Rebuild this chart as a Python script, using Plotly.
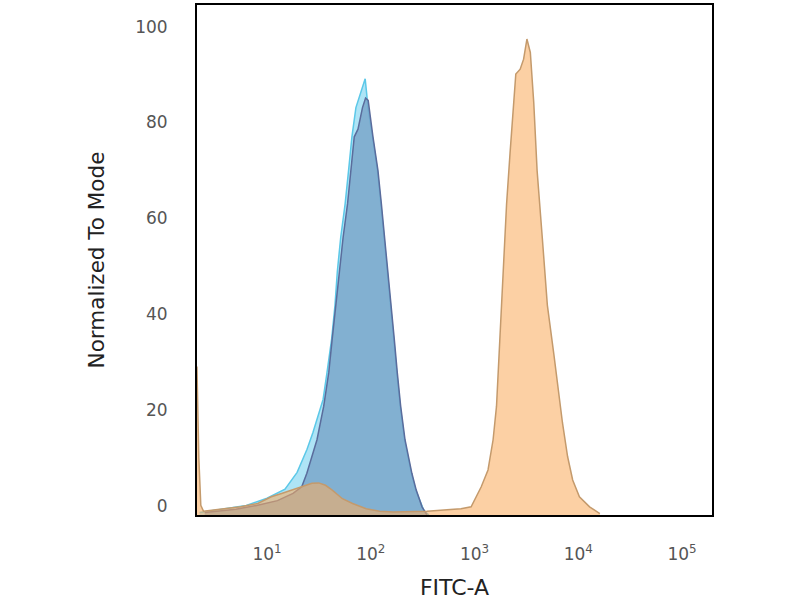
import plotly.graph_objects as go

# FITC-A intensity (log axis) and normalized counts for each histogram
cyan_x = [2.24, 3.16, 6.31, 10.0, 14.9, 19.5, 24.3, 27.7, 31.0, 34.7, 37.9, 42.0, 45.2, 47.6, 51.3,
          56.6, 61.1, 65.8, 71.9, 79.4, 88.3, 91.2, 93.8, 103.8, 115.8, 125.0, 134.6, 145.2, 156.7,
          166.3, 177.8, 191.9, 211.3, 246.0, 271.0, 310.0, 324.0, 363.0]
cyan_y = [0.5, 1.0, 2.0, 3.5, 5.4, 8.9, 13.7, 17.2, 20.5, 24.1, 29.8, 36.8, 43.8, 50.8, 57.9,
          64.9, 71.9, 78.9, 85.0, 88.0, 91.0, 88.0, 85.0, 78.9, 71.9, 64.9, 57.9, 50.8, 43.8,
          36.8, 29.8, 22.7, 15.7, 8.7, 5.2, 2.2, 1.0, 0.0]

blue_x = [2.51, 5.01, 7.94, 12.6, 17.8, 21.6, 24.2, 30.3, 35.2, 39.4, 42.5, 45.8, 49.4, 54.1,
          59.7, 64.4, 69.3, 75.3, 83.2, 89.1, 94.4, 105.0, 117.2, 126.5, 136.1, 146.9, 158.5,
          168.3, 179.9, 194.1, 213.8, 248.9, 274.2, 311.9, 348.3]
blue_y = [0.5, 1.2, 2.0, 3.0, 4.5, 5.9, 8.7, 15.7, 22.7, 29.8, 36.8, 43.8, 50.8, 57.9,
          64.9, 71.9, 78.9, 80.5, 85.0, 87.0, 86.5, 78.9, 71.9, 64.9, 57.9, 50.8, 43.8,
          36.8, 29.8, 22.7, 15.7, 8.7, 5.2, 1.7, 0.0]

orange_x = [2.11, 2.2, 2.3, 2.44, 3.85, 5.58, 8.13, 11.0, 13.8, 17.3, 21.6, 27.1, 31.5, 36.6,
            42.5, 53.3, 66.7, 90.2, 121.6, 164.4, 348, 740, 927, 1161, 1349, 1510, 1629, 1758,
            1892, 2037, 2198, 2371, 2500, 2754, 2972, 3199, 3451, 3724, 4009, 4498, 5035, 5834,
            6531, 7047, 7889, 8831, 10257, 12853, 16144]
orange_y = [31.0, 12.0, 2.0, 0.8, 1.3, 1.7, 2.4, 3.8, 4.5, 5.2, 5.9, 6.6, 6.7, 6.2,
            5.2, 3.4, 2.4, 1.3, 0.8, 0.6, 0.8, 1.3, 1.7, 5.9, 9.4, 15.7, 22.7, 36.8,
            50.8, 64.9, 75.4, 86.0, 92.0, 93.0, 95.1, 99.3, 96.5, 86.0, 71.9, 57.9, 43.8, 33.3,
            24.9, 19.2, 12.2, 7.3, 3.8, 1.7, 0.3]

x_tickvals = [10, 100, 1000, 10000, 100000]
x_ticktext = ["10<sup>1</sup>", "10<sup>2</sup>", "10<sup>3</sup>", "10<sup>4</sup>", "10<sup>5</sup>"]
y_tickvals = [0, 20, 40, 60, 80, 100]

fig = go.Figure()
fig.add_trace(go.Scatter(x=cyan_x, y=cyan_y, mode="lines", fill="tozeroy",
                         line=dict(color="#5cc8e8", width=1.5),
                         fillcolor="rgba(120,210,240,0.6)", showlegend=False))
fig.add_trace(go.Scatter(x=blue_x, y=blue_y, mode="lines", fill="tozeroy",
                         line=dict(color="#5a6c9c", width=1.5),
                         fillcolor="rgba(118,162,198,0.78)", showlegend=False))
fig.add_trace(go.Scatter(x=orange_x, y=orange_y, mode="lines", fill="tozeroy",
                         line=dict(color="#c49a6c", width=1.5),
                         fillcolor="rgba(250,172,95,0.57)", showlegend=False))

fig.update_layout(
    width=800, height=600,
    margin=dict(l=197, r=88, t=3, b=84),
    paper_bgcolor="white", plot_bgcolor="white",
    font=dict(family="DejaVu Sans", color="#333333"),
    xaxis=dict(type="log", range=[0.325, 5.289], tickvals=x_tickvals, ticktext=x_ticktext,
               showgrid=False, zeroline=False, showline=True, mirror=True,
               linecolor="black", linewidth=2, ticks="",
               tickfont=dict(size=17, color="#555555"), ticklabelstandoff=23,
               title=dict(text="FITC-A", font=dict(size=22, color="#222222"), standoff=17)),
    yaxis=dict(range=[0, 106.4], tickvals=y_tickvals,
               showgrid=False, zeroline=False, showline=True, mirror=True,
               linecolor="black", linewidth=2, ticks="",
               tickfont=dict(size=17, color="#555555"), ticklabelstandoff=24, ticklabelshift=-9,
               title=dict(text="Normalized To Mode", font=dict(size=21.5, color="#222222"), standoff=25)),
)

fig.write_html("out.html", config={"displayModeBar": False},
               post_script="document.body.style.margin='0';")
